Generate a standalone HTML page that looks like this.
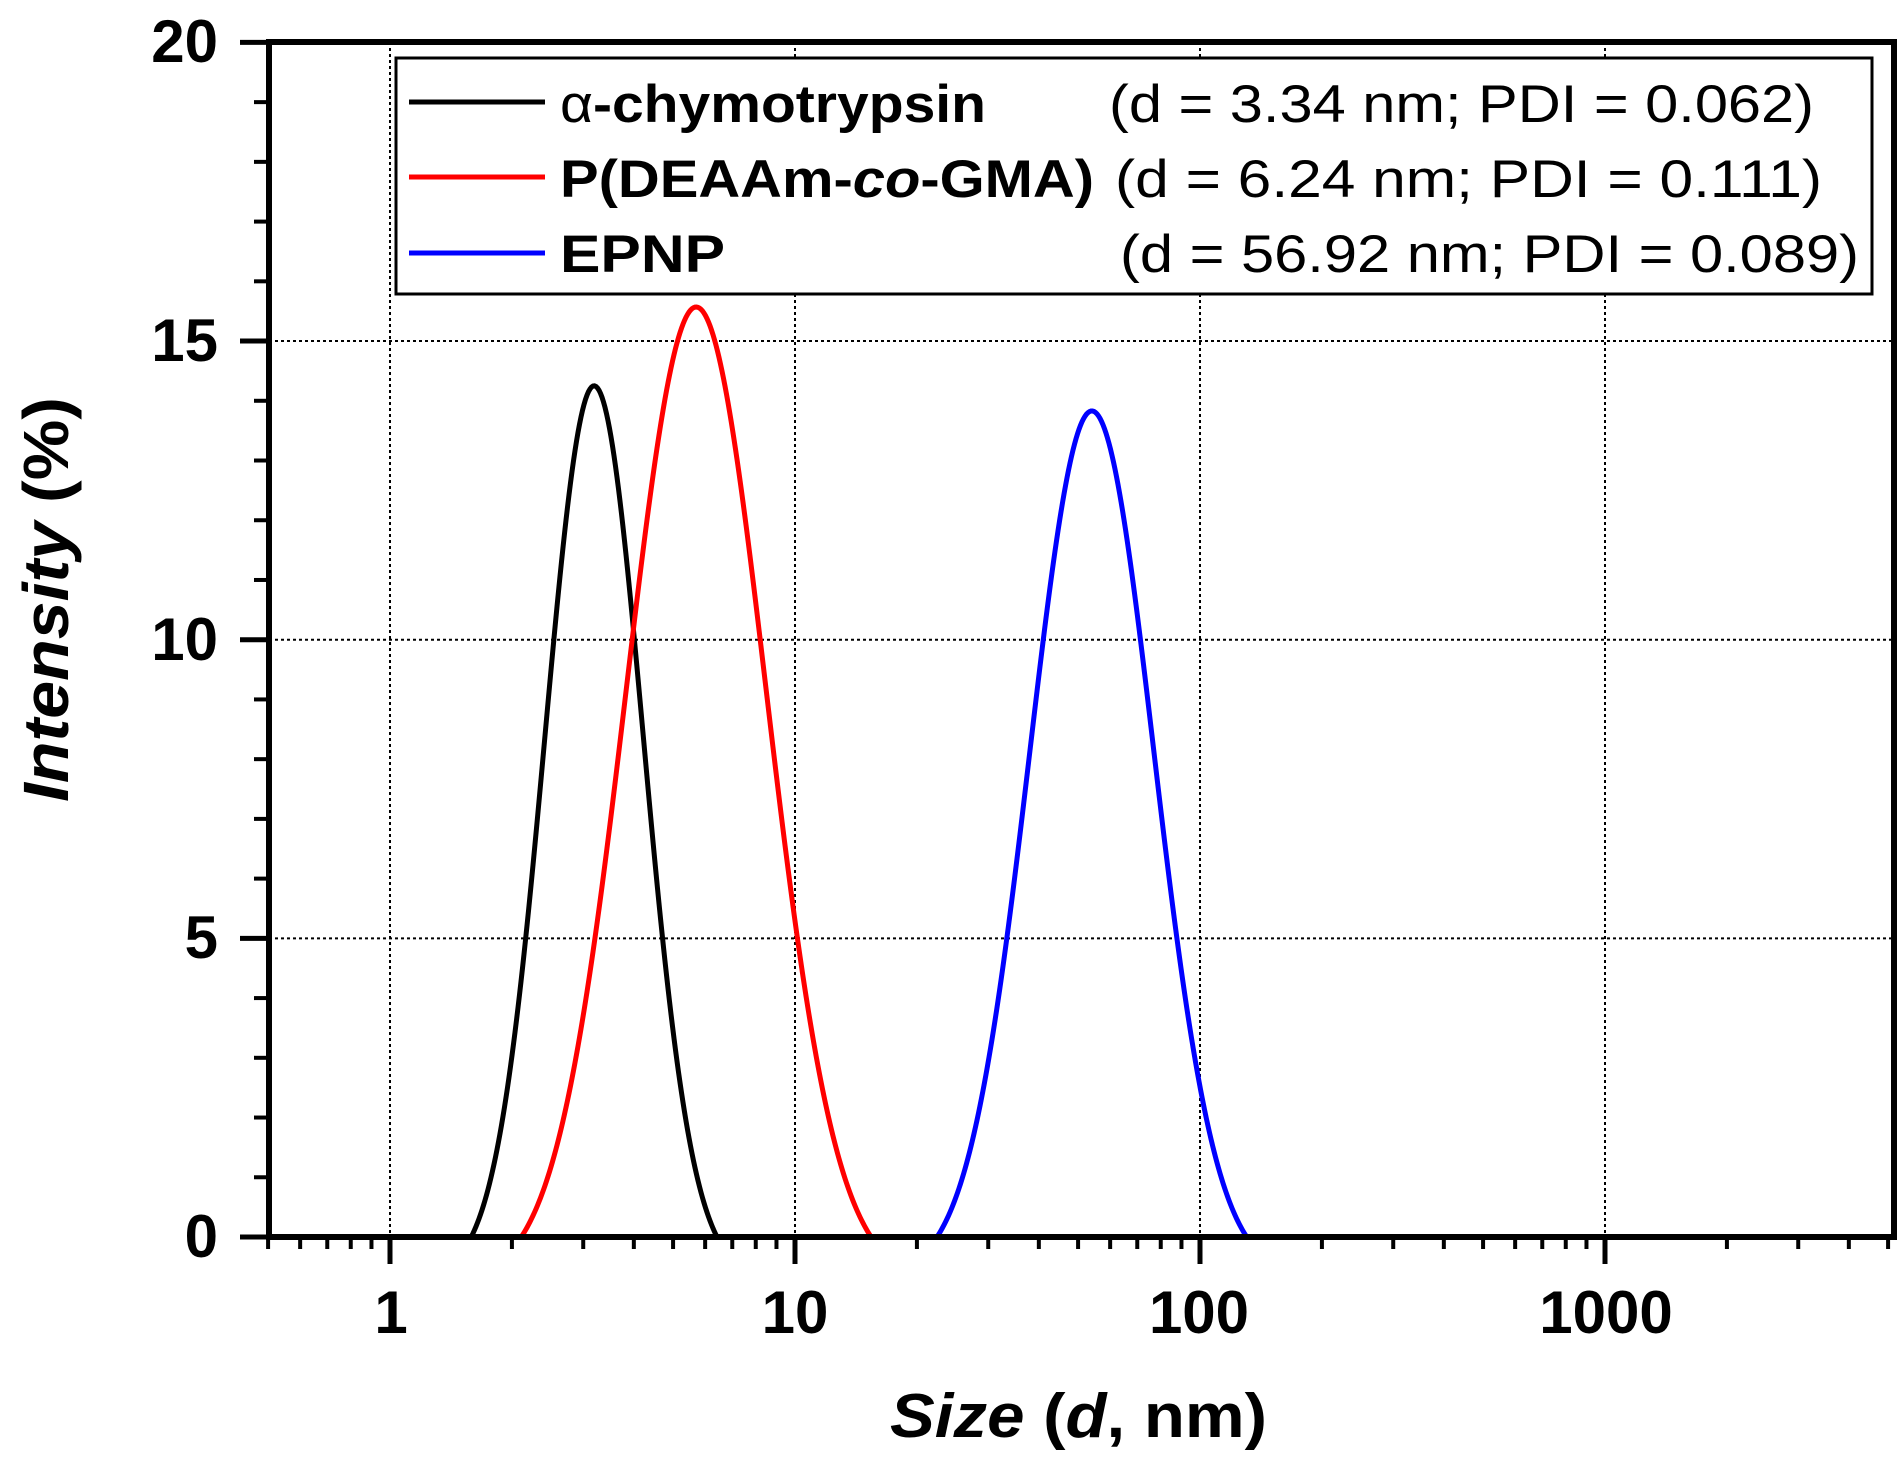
<!DOCTYPE html>
<html><head><meta charset="utf-8"><style>
html,body{margin:0;padding:0;background:#fff;}
svg{display:block;}
text{font-family:"Liberation Sans",Arial,sans-serif;}
</style></head><body>
<svg id="s" width="1903" height="1479" viewBox="0 0 1903 1479" xmlns="http://www.w3.org/2000/svg">
<rect width="1903" height="1479" fill="#fff"/>
<g id="grid" stroke="#000" stroke-width="2" stroke-dasharray="3,3" fill="none"></g>
<g id="ticks" stroke="#000" stroke-width="5" fill="none"></g>
<path id="cb" fill="none" stroke="#000" stroke-width="5"/>
<path id="cr" fill="none" stroke="#ff0000" stroke-width="5"/>
<path id="cbl" fill="none" stroke="#0000ff" stroke-width="5"/>
<rect x="269" y="42" width="1625" height="1195" fill="none" stroke="#000" stroke-width="6"/>
<rect x="396" y="58" width="1476" height="236" fill="#fff" stroke="#000" stroke-width="3"/>
<line x1="409" y1="102" x2="545" y2="102" stroke="#000" stroke-width="5"/>
<line x1="409" y1="177" x2="545" y2="177" stroke="#ff0000" stroke-width="5"/>
<line x1="409" y1="253" x2="545" y2="253" stroke="#0000ff" stroke-width="5"/>
<g font-size="53" font-weight="bold">
<text x="560" y="122" textLength="426" lengthAdjust="spacingAndGlyphs"><tspan font-weight="normal">α</tspan>-chymotrypsin</text>
<text x="560" y="197" textLength="534" lengthAdjust="spacingAndGlyphs">P(DEAAm-<tspan font-style="italic">co</tspan>-GMA)</text>
<text x="560" y="272" textLength="165" lengthAdjust="spacingAndGlyphs">EPNP</text>
</g>
<g font-size="53">
<text x="1109" y="122" textLength="705" lengthAdjust="spacingAndGlyphs">(d = 3.34 nm; PDI = 0.062)</text>
<text x="1115" y="197" textLength="707" lengthAdjust="spacingAndGlyphs">(d = 6.24 nm; PDI = 0.111)</text>
<text x="1120" y="272" textLength="739" lengthAdjust="spacingAndGlyphs">(d = 56.92 nm; PDI = 0.089)</text>
</g>
<g font-size="60" font-weight="bold" text-anchor="end">
<text x="218" y="62">20</text>
<text x="218" y="361">15</text>
<text x="218" y="660">10</text>
<text x="218" y="958">5</text>
<text x="218" y="1257">0</text>
</g>
<g font-size="60" font-weight="bold" text-anchor="middle">
<text x="391" y="1333">1</text>
<text x="795" y="1333">10</text>
<text x="1199" y="1333">100</text>
<text x="1606" y="1333">1000</text>
</g>
<text x="890" y="1437" font-size="62" font-weight="bold" textLength="377" lengthAdjust="spacingAndGlyphs"><tspan font-style="italic">Size</tspan> (<tspan font-style="italic">d</tspan>, nm)</text>
<text transform="translate(68,802) rotate(-90)" font-size="64" font-weight="bold" textLength="405" lengthAdjust="spacingAndGlyphs"><tspan font-style="italic">Intensity</tspan> (%)</text>
</svg>
<script>
var X0=390,D=405,Y0=1237,U=59.73;
function X(L){return X0+D*L;}
function Y(v){return Y0-U*v;}
var g=document.getElementById('grid'),t=document.getElementById('ticks'),ns='http://www.w3.org/2000/svg';
function ln(p,x1,y1,x2,y2,w){var e=document.createElementNS(ns,'line');e.setAttribute('x1',x1);e.setAttribute('y1',y1);e.setAttribute('x2',x2);e.setAttribute('y2',y2);if(w)e.setAttribute('stroke-width',w);p.appendChild(e);}
for(var d=0;d<=3;d++){ln(g,X(d),42,X(d),1237);}
[5,10,15].forEach(function(v){ln(g,269,Y(v),1894,Y(v));});
for(var v=0;v<=20;v++){var maj=v%5==0;ln(t,maj?240:254,Y(v),269,Y(v),maj?5:4);}
for(var e=-1;e<=3;e++){for(var k=1;k<=9;k++){var val=k*Math.pow(10,e);if(val<0.5||val>5000)continue;var x=X(Math.log10(val));ln(t,x,1237,x,k==1?1264:1249,k==1?5:4);}}
var K=2.5,eps=Math.exp(-K*K/2);
function f(z,s){var v=(Math.exp(-z*z/(2*s*s))-eps)/(1-eps);return v>0?v:0;}
function curve(id,c,A,h){
  var target=5/A,lo=0.01,hi=1;
  for(var i=0;i<60;i++){var m=(lo+hi)/2;if(f(h,m)<target)lo=m;else hi=m;}
  var s=(lo+hi)/2;
  var d='M269 '+Y0;for(var x=269;x<=1894;x+=1.5){var L=(x-X0)/D;var v=A*f(L-c,s);d+=' L'+x+' '+Y(v).toFixed(2);}document.getElementById(id).setAttribute('d',d);}
curve('cb',0.504,14.25,0.169);
curve('cr',0.756,15.57,0.25);
curve('cbl',1.733,13.83,0.21);
</script>
</body></html>
